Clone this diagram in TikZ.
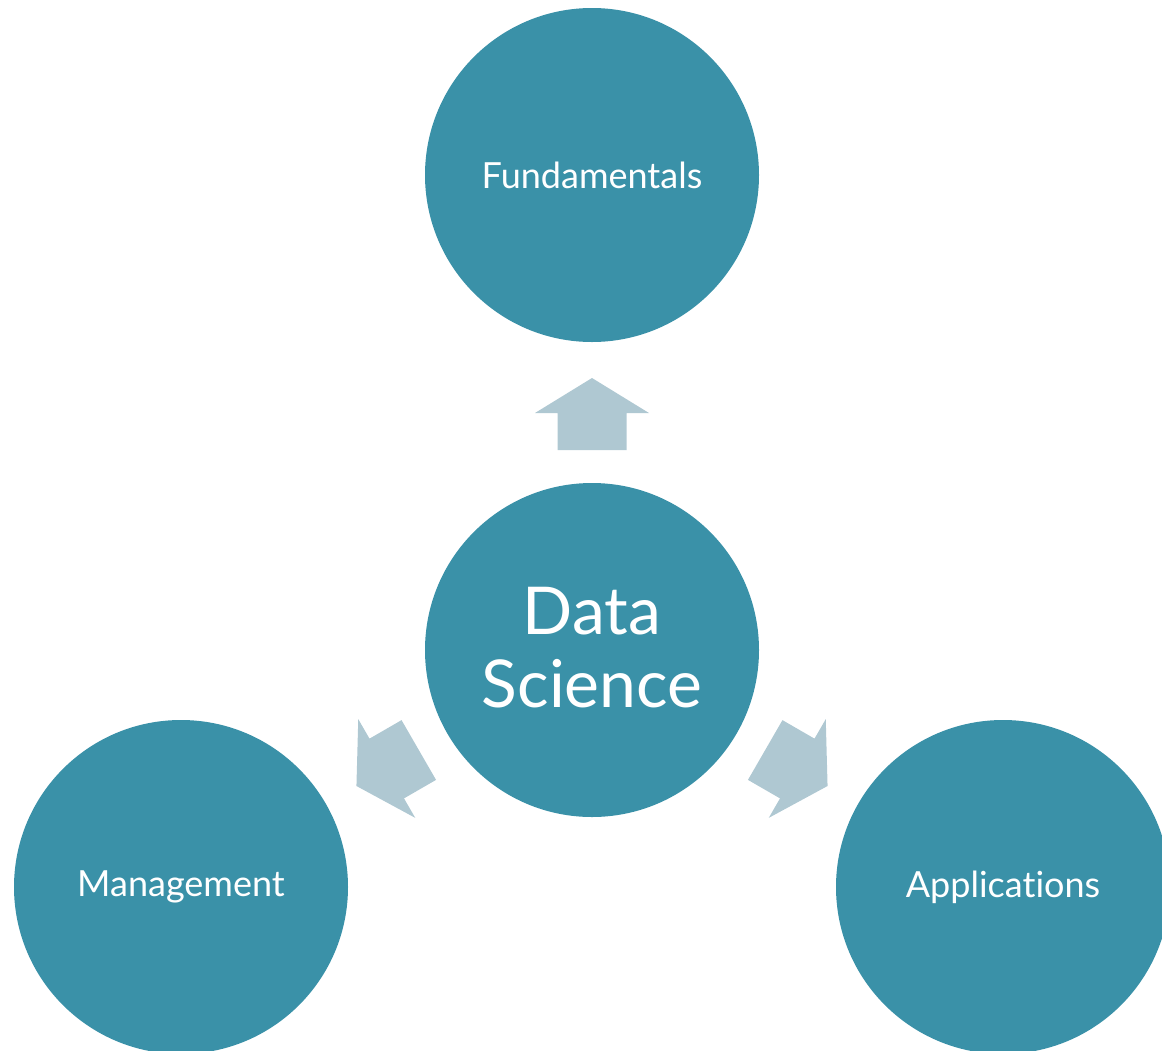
\documentclass[tikz,border=0pt]{standalone}
\usepackage{fontspec}
\setmainfont{Lato}[Ligatures={NoCommon,NoRare}]
\definecolor{circ}{HTML}{3A91A8}
\definecolor{arr}{HTML}{AFC8D2}
\begin{document}
\begin{tikzpicture}[x=1pt,y=1pt,
  bubble/.style={circle,fill=circ,minimum size=334pt,inner sep=0pt,text=white,font=\fontsize{36}{42}\selectfont},
  bigtext/.style={text=white,align=center,font=\fontsize{66}{73}\selectfont},
  blockarrow/.style={fill=arr}]
\useasboundingbox (0,0) rectangle (1162,-1050);
\clip (0,0) rectangle (1162,-1050);
\node[bubble] (fund) at (592,-175) {Fundamentals};
\node[bubble] (ds) at (592,-650) {};
\node[bigtext] (dstext) at (592,-648) {Data\\Science};
\node[bubble] (mgmt) at (181,-887) {Management};
\node[bubble] (app) at (1003,-887) {Applications};
\foreach \a/\n in {90/up,210/left,330/right}{
  \begin{scope}[shift={(ds.center)},rotate=\a]
    \fill[blockarrow] (200,-34.5) -- (237,-34.5) -- (237,-57) -- (272,0) -- (237,57) -- (237,34.5) -- (200,34.5) -- cycle;
  \end{scope}
}
\end{tikzpicture}
\end{document}
